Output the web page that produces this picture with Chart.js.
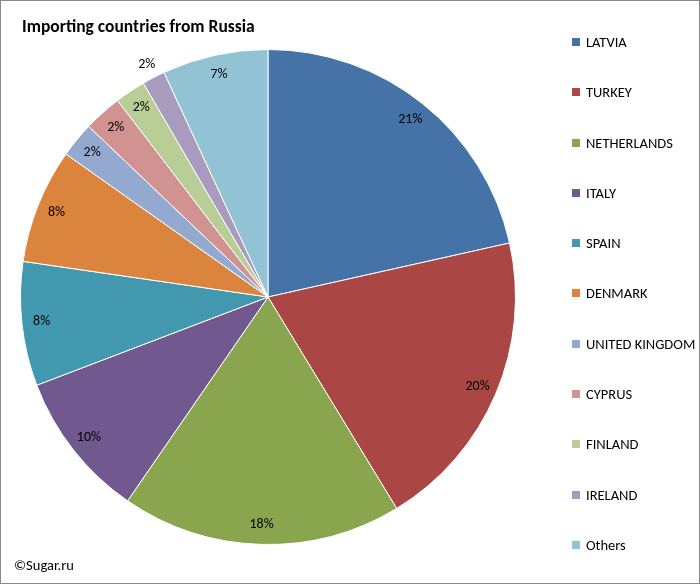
<!DOCTYPE html>
<html><head><meta charset="utf-8">
<script src="https://cdn.jsdelivr.net/npm/chart.js@4"></script>
<style>
body{margin:0;background:#fff;font-family:Carlito,"Liberation Sans",sans-serif;}
#wrap{position:relative;width:700px;height:584px;}
#frame{position:absolute;left:0;top:0;width:698px;height:582px;border:1px solid #888;pointer-events:none;}
#title{position:absolute;left:22px;top:15px;font-weight:bold;font-size:17.5px;color:#000;}
#copy{position:absolute;left:14px;top:556px;font-size:14.5px;color:#000;}
#legend{position:absolute;left:572px;top:33px;font-size:14.5px;}
.li{height:50.3px;display:flex;align-items:flex-start;}
.sw{width:8px;height:8px;margin:5px 6px 0 0;}
</style></head><body>
<div id="wrap"><canvas id="c" width="700" height="584"></canvas>
<div id="title">Importing countries from Russia</div>
<div id="copy">©Sugar.ru</div>
<div id="legend"></div><div id="frame"></div></div>
<script>
const categories=["LATVIA","TURKEY","NETHERLANDS","ITALY","SPAIN","DENMARK","UNITED KINGDOM","CYPRUS","FINLAND","IRELAND","Others"];
const values=[21.5,19.8,18.3,9.6,8.1,7.5,2.3,2.5,2.0,1.5,6.9];
const labels=["21%","20%","18%","10%","8%","8%","2%","2%","2%","2%","7%"];
const colors=["#4572A7","#AA4643","#89A54E","#71588F","#4198AF","#DB843D","#93A9CF","#D19392","#B9CD96","#A99BBD","#92C3D4"];
const lg=document.getElementById('legend');
categories.forEach((c,i)=>{lg.innerHTML+=`<div class="li"><div class="sw" style="background:${colors[i]}"></div><div>${c}</div></div>`;});
const lbl={id:'lbl',afterDatasetsDraw(ch){const ctx=ch.ctx;ctx.save();ctx.font='14px Carlito, "Liberation Sans", sans-serif';ctx.fillStyle='#000';ctx.textAlign='center';ctx.textBaseline='middle';
ch.getDatasetMeta(0).data.forEach((a,i)=>{const m=(a.startAngle+a.endAngle)/2;const f=i===9?1.06:0.92;const r=a.outerRadius*f;ctx.fillText(labels[i],a.x+Math.cos(m)*r,a.y+Math.sin(m)*r);});ctx.restore();}};
new Chart(document.getElementById('c'),{type:'pie',data:{labels:categories,datasets:[{data:values,backgroundColor:colors,borderColor:'#fff',borderWidth:1}]},
options:{responsive:false,animation:false,layout:{padding:{left:20,right:184,top:49,bottom:39}},plugins:{legend:{display:false},tooltip:{enabled:false}}},plugins:[lbl]});
</script></body></html>
